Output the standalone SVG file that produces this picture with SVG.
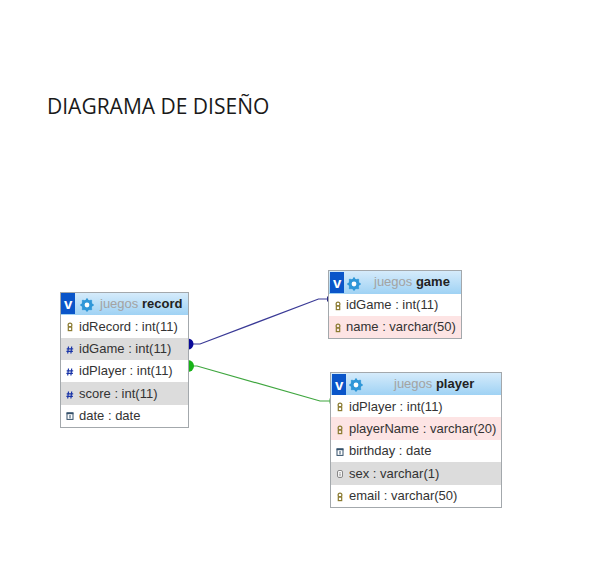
<svg xmlns="http://www.w3.org/2000/svg" width="591" height="586" viewBox="0 0 591 586">
<style>
.t{font-family:"Liberation Sans",Arial,sans-serif;font-size:13px;fill:#333}
.h{font-family:"Liberation Sans",Arial,sans-serif;font-size:13px;fill:#a3a3a3}
.h tspan{font-weight:bold;fill:#222}
.title{font-family:"Open Sans","Noto Sans",sans-serif;font-size:21px;fill:#1a1a1a}
.box{fill:#fff;stroke:#a3a8ac;stroke-width:1}
.g{fill:#dcdcdc}.p{fill:#fde4e4}
.v{fill:#0a55c9}
.vt{font-family:"Liberation Sans",Arial,sans-serif;font-size:15px;font-weight:bold;fill:#fff}
.gear{fill:#2f97d8}
.gh{fill:#fff}
.key{fill:none;stroke:#8a7a30;stroke-width:1.2}
.cal{fill:#fff;stroke:#34506a;stroke-width:1}
.calb{fill:#34506a}
.txt{fill:#fff;stroke:#888;stroke-width:1}
.c{fill:none;stroke-width:1.2}
</style>
<defs>
<linearGradient id="hg" x1="0" y1="0" x2="0" y2="1"><stop offset="0" stop-color="#d5ebfb"/><stop offset="1" stop-color="#9fd2f4"/></linearGradient>
<g id="key"><ellipse cx="0" cy="-2" class="key" rx="1.9" ry="1.9"/><rect x="-1.7" y="0" width="3.4" height="3.6" class="key"/></g>
<g id="date"><rect x="-3" y="-3" width="6" height="6.4" class="cal"/><rect x="-3.4" y="-3.6" width="6.8" height="1.8" class="calb"/><rect x="-0.5" y="-1" width="1" height="3.4" class="calb"/></g>
<g id="hash"><path d="M-1.5-3.5-2.3 3.500M1.700-3.500.9 3.500M-3.300-1.200H3.200M-3.600 1.300H2.900" fill="none" stroke="#1a35a8" stroke-width="1.200"/></g>
<g id="text"><rect x="-2.500" y="-3.500" width="5" height="7" rx="1.500" class="txt"/><path d="M-1.200-1.200H1.200M-1.200.3H1.200M-1.200 1.800H1.200" stroke="#888" stroke-width=".7"/></g>
<g id="gear"><circle r="5.600" class="gear"/><path d="M0-6.600V6.600M-6.600 0H6.600M-4.700-4.700 4.700 4.700M-4.700 4.700 4.700-4.700" stroke="#2f97d8" stroke-width="2"/><circle r="2.400" class="gh"/></g>
</defs>
<rect width="591" height="586" fill="#fff"/>
<text id="title" class="title" x="47" y="114">DIAGRAMA DE DISEÑO</text>
<g id="connectors">
<path class="c" stroke="#3a3a96" d="M191 344H200L318.500 299H328"/>
<path class="c" stroke="#3fa63f" d="M191 366H197L320 401H331"/>
<path d="M188 338.500a5.500 5.500 0 0 1 0 11z" fill="#0a0a9a"/>
<path d="M188 360a6 6 0 0 1 0 12z" fill="#17b317"/>
<rect x="327" y="296.500" width="2" height="5" fill="#2a2a80"/>
<rect x="329.500" y="398.500" width="1.500" height="5" fill="#3fa63f"/>
</g>
<g id="record">
<rect class="box" x="60.500" y="292.500" width="128" height="135"/>
<rect x="61" y="293" width="127" height="22" fill="url(#hg)"/>
<rect class="v" x="61" y="293" width="14" height="21"/>
<text class="vt" x="64" y="309">v</text>
<use href="#gear" x="87" y="305"/>
<text class="h" x="100" y="308">juegos <tspan>record</tspan></text>
<rect class="g" x="61" y="338" width="127" height="22"/>
<rect class="g" x="61" y="382" width="127" height="23"/>
<use href="#key" x="70" y="327"/>
<use href="#hash" x="70" y="350"/>
<use href="#hash" x="70" y="372"/>
<use href="#hash" x="70" y="395"/>
<use href="#date" x="70" y="416"/>
<text class="t" x="79" y="331">idRecord : int(11)</text>
<text class="t" x="79" y="353">idGame : int(11)</text>
<text class="t" x="79" y="375">idPlayer : int(11)</text>
<text class="t" x="79" y="398">score : int(11)</text>
<text class="t" x="79" y="420">date : date</text>
</g>
<g id="game">
<rect class="box" x="328.500" y="270.500" width="133" height="68"/>
<rect x="329" y="271" width="132" height="23" fill="url(#hg)"/>
<rect class="v" x="330" y="272" width="14" height="21"/>
<text class="vt" x="333" y="288">v</text>
<use href="#gear" x="354" y="284"/>
<text class="h" x="374" y="286">juegos <tspan>game</tspan></text>
<rect class="p" x="329" y="316" width="132" height="22"/>
<use href="#key" x="338" y="306"/>
<use href="#key" x="338" y="328"/>
<text class="t" x="346" y="309">idGame : int(11)</text>
<text class="t" x="346" y="331">name : varchar(50)</text>
</g>
<g id="player">
<rect class="box" x="330.500" y="372.500" width="171" height="135"/>
<rect x="331" y="373" width="170" height="22" fill="url(#hg)"/>
<rect class="v" x="332" y="374" width="14" height="21"/>
<text class="vt" x="335" y="390">v</text>
<use href="#gear" x="356" y="385"/>
<text class="h" x="394" y="388">juegos <tspan>player</tspan></text>
<rect class="p" x="331" y="417" width="170" height="23"/>
<rect class="g" x="331" y="462" width="170" height="23"/>
<use href="#key" x="340" y="407"/>
<use href="#key" x="340" y="430"/>
<use href="#date" x="340" y="452"/>
<use href="#text" x="340" y="474"/>
<use href="#key" x="340" y="497"/>
<text class="t" x="349" y="411">idPlayer : int(11)</text>
<text class="t" x="349" y="433">playerName : varchar(20)</text>
<text class="t" x="349" y="455">birthday : date</text>
<text class="t" x="349" y="478">sex : varchar(1)</text>
<text class="t" x="349" y="500">email : varchar(50)</text>
</g>
</svg>
